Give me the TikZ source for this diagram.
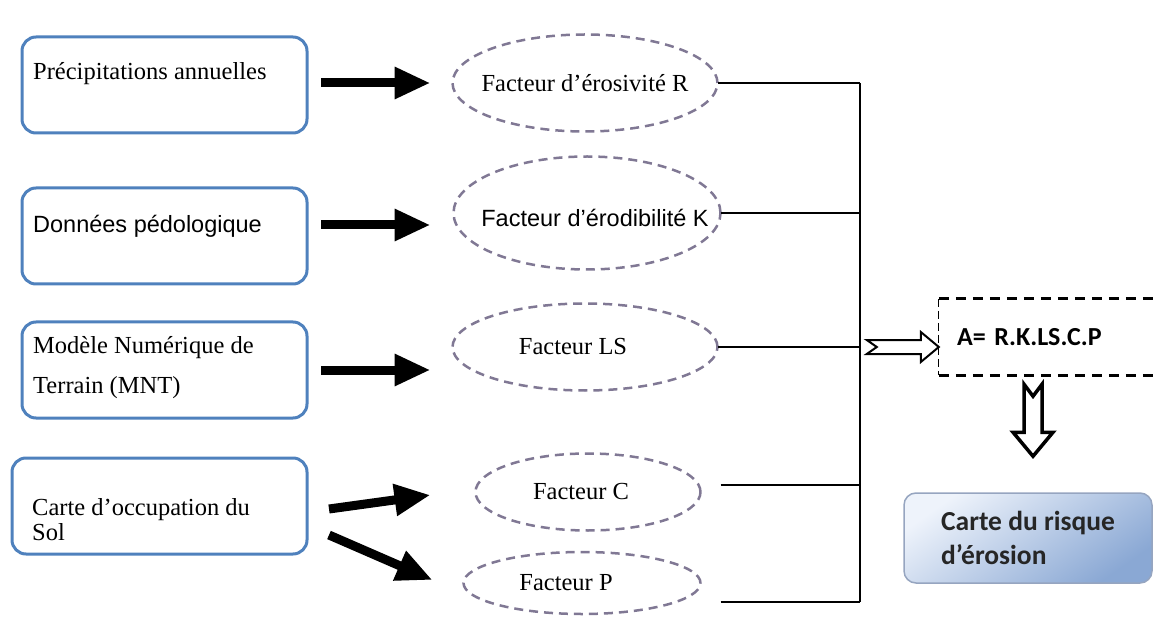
\documentclass[tikz,border=0pt]{standalone}
\usepackage{fontspec}
\setmainfont{Liberation Serif}
\setsansfont{Liberation Sans}
\newfontfamily\calibfont{Carlito}
\usetikzlibrary{arrows.meta,calc,positioning,shapes.geometric}
\definecolor{srcblue}{RGB}{79,129,189}
\definecolor{facgray}{RGB}{128,120,148}
\definecolor{reslight}{RGB}{238,243,251}
\definecolor{resdark}{RGB}{138,168,212}
\definecolor{resline}{RGB}{150,165,192}

\begin{document}
\begin{tikzpicture}[x=1pt,y=-1pt,
  src/.style={draw=srcblue,line width=3pt,rounded corners=14pt,minimum width=285pt,minimum height=96pt,inner sep=0pt,outer sep=0pt},
  srctxt/.style={anchor=north west,align=left,inner sep=0pt,font=\fontsize{24.5}{30}\selectfont},
  fac/.style={ellipse,draw=facgray,line width=2.5pt,dash pattern=on 9pt off 6pt,inner sep=0pt,outer sep=0pt},
  factxt/.style={inner sep=0pt,font=\fontsize{24.5}{30}\selectfont},
  big/.style={line width=9pt,-{Triangle[length=36pt,width=30pt]}},
  link/.style={line width=1.5pt},
  hollow/.style={draw,fill=white,line width=2pt},
  eqbox/.style={minimum width=226pt,minimum height=76pt,text width=190pt,align=left,inner sep=0pt,font=\calibfont\bfseries\fontsize{26}{30}\selectfont},
  eqline/.style={line width=3pt,dash pattern=on 10pt off 7pt},
  result/.style={draw=resline,line width=1.5pt,rounded corners=12pt,minimum width=248pt,minimum height=90pt,top color=reslight,bottom color=resdark,shading angle=35,align=left,font=\calibfont\bfseries\fontsize{27.5}{34}\selectfont,text=black!85}]
\useasboundingbox (0,0) rectangle (1153,617);
\clip (0,0) rectangle (1153,617);

% donnees d'entree
\node[src,label={[srctxt,xshift=11pt,yshift=-25pt]north west:Précipitations annuelles}] (pre) at (164.5,85) {};
\node[src,label={[srctxt,font=\sffamily\fontsize{23.5}{28}\selectfont,xshift=11pt,yshift=-27pt]north west:Données pédologique}] (don) [below=55pt of pre] {};
\node[src,label={[srctxt,font=\fontsize{24.5}{40}\selectfont,xshift=11pt,yshift=-14pt]north west:Modèle Numérique de\\Terrain (MNT)}] (mnt) [below=38pt of don] {};
\node[src,minimum width=295pt,label={[srctxt,font=\fontsize{24.5}{25}\selectfont,xshift=20pt,yshift=-40pt]north west:Carte d’occupation du\\Sol}] (occ) [below=40pt of mnt.south east,anchor=north east] {};

% facteurs
\node[fac,minimum width=265pt,minimum height=97pt,label={[factxt]center:Facteur d’érosivité R}] (facR) at (585,83) {};
\node[fac,minimum width=267pt,minimum height=113pt,label={[factxt,font=\sffamily\fontsize{23.5}{28}\selectfont,xshift=8pt,yshift=-5pt]center:Facteur d’érodibilité K}] (facK) at (587,213) {};
\node[fac,minimum width=265pt,minimum height=87pt,label={[factxt,xshift=-12pt]center:Facteur LS}] (facLS) at (585,347) {};
\node[fac,minimum width=225pt,minimum height=77pt,label={[factxt,xshift=-7pt]center:Facteur C}] (facC) at (588,492) {};
\node[fac,minimum width=237pt,minimum height=62pt,label={[factxt,xshift=-16pt]center:Facteur P}] (facP) at (582,583) {};

\draw[big] ($(pre.east)+(14,-2)$) -- ($(facR.west)+(-22,0)$);
\draw[big] ($(don.east)+(14,-11)$) -- ($(facK.west)+(-23,12)$);
\draw[big] ($(mnt.east)+(14,0)$) -- ($(facLS.west)+(-22,23)$);
\draw[big] ($(occ.east)+(22,3)$) -- ($(facC.west)+(-45,3)$);
\draw[big] ($(occ.east)+(22,29)$) -- ($(facP.west)+(-31,-3)$);

% regroupement
\coordinate (jtop) at (860,83);
\coordinate (jbot) at (860,602);
\coordinate (cC) at ($(facC.east)+(20,-7)$);
\coordinate (cP) at ($(facP.east)+(20,19)$);
\draw[link] (jtop) -- (jbot);
\draw[link] (facR.east) -- (facR.east -| jtop);
\draw[link] (facK.east) -- (facK.east -| jtop);
\draw[link] (facLS.east) -- (facLS.east -| jtop);
\draw[link] (cC) -- (cC -| jtop);
\draw[link] (cP) -- (jbot);

% equation
\node[eqbox] (eq) at (1052,337) {A= R.K.LS.C.P};
\draw[eqline] (eq.north west) -- (eq.north east);
\draw[eqline] (eq.south west) -- (eq.south east);
\draw[line width=1pt,dash pattern=on 8pt off 4pt] (eq.north west) -- (eq.south west);
\draw[hollow] ($(eq.west)+(0,10)$) -- ++(-18,-15) -- ++(0,8) -- ++(-54,0) -- ++(10,7) -- ++(-10,7) -- ++(54,0) -- ++(0,8) -- cycle;

% resultat
\node[result] (res) at (1028,538) {Carte du risque\\d’érosion};
\draw[hollow,line width=3.5pt] ($(res.north)+(5,-36)$) -- ++(-20,-24) -- ++(11,0) -- ++(0,-48) -- ++(9,12) -- ++(9,-12) -- ++(0,48) -- ++(11,0) -- cycle;

\end{tikzpicture}
\end{document}
